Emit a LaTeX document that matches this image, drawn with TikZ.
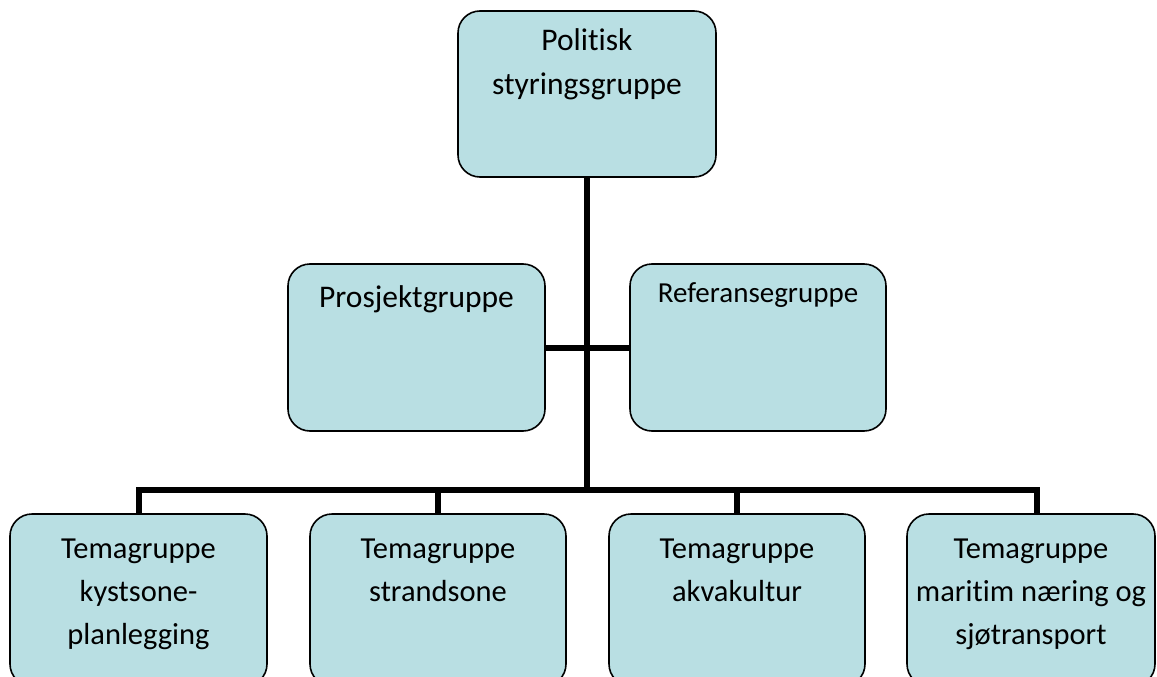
\documentclass[tikz,border=0pt]{standalone}
\usepackage{fontspec}
\setmainfont{Carlito}[Ligatures=NoCommon]
\definecolor{boxfill}{RGB}{185,223,227}
\begin{document}
\begin{tikzpicture}[x=1pt,y=-1pt,
  box/.style={draw=black, line width=1.6pt, fill=boxfill, rounded corners=22pt, inner sep=0pt},
  conn/.style={draw=black, line width=6pt, line join=miter},
  lbl/.style={align=center, inner sep=0pt, anchor=base, font=\fontsize{30.5}{43}\selectfont},
  lbltop/.style={align=center, inner sep=0pt, anchor=base, font=\fontsize{31.5}{44}\selectfont},
  lblsmall/.style={align=center, inner sep=0pt, anchor=base, font=\fontsize{29}{40}\selectfont}]
\useasboundingbox (0,0) rectangle (1157,677);
\clip (0,0) rectangle (1157,677);
% boxes
\node[box, minimum width=258pt, minimum height=166pt] (pol) at (587,94) {};
\node[box, minimum width=257pt, minimum height=167pt] (pro) at (416.5,347.5) {};
\node[box, minimum width=256pt, minimum height=167pt] (ref) at (758,347.5) {};
\node[box, minimum width=257pt, minimum height=172pt] (t1) at (138.5,600) {};
\node[box, minimum width=256pt, minimum height=172pt] (t2) at (438,600) {};
\node[box, minimum width=256pt, minimum height=172pt] (t3) at (737,600) {};
\node[box, minimum width=248pt, minimum height=172pt] (t4) at (1031,600) {};
% connector points
\coordinate (bus) at (587,490);
\coordinate (s4) at (1037,490);
% connectors
\draw[conn] (pol.south) -- (pol.south |- bus);
\draw[conn] (pro.east) -- (ref.west);
\draw[conn] (t1.north) -- (t1.north |- bus) -- (s4) -- (s4 |- t4.north);
\draw[conn] (t2.north) -- (t2.north |- bus);
\draw[conn] (t3.north) -- (t3.north |- bus);
% labels (anchor = baseline of last line)
\node[lbltop] (polt) at (587,95) {Politisk\\styringsgruppe};
\node[lbltop] (prot) at (416.5,307) {Prosjektgruppe};
\node[lblsmall] (reft) at (758,302) {Referansegruppe};
\node[lbl] (t1t) at (138.5,644) {Temagruppe\\kystsone-\\planlegging};
\node[lbl] (t2t) at (438,601) {Temagruppe\\strandsone};
\node[lbl] (t3t) at (737,601) {Temagruppe\\akvakultur};
\node[lbl] (t4t) at (1031,644) {Temagruppe\\maritim næring og\\sjøtransport};
\end{tikzpicture}
\end{document}
